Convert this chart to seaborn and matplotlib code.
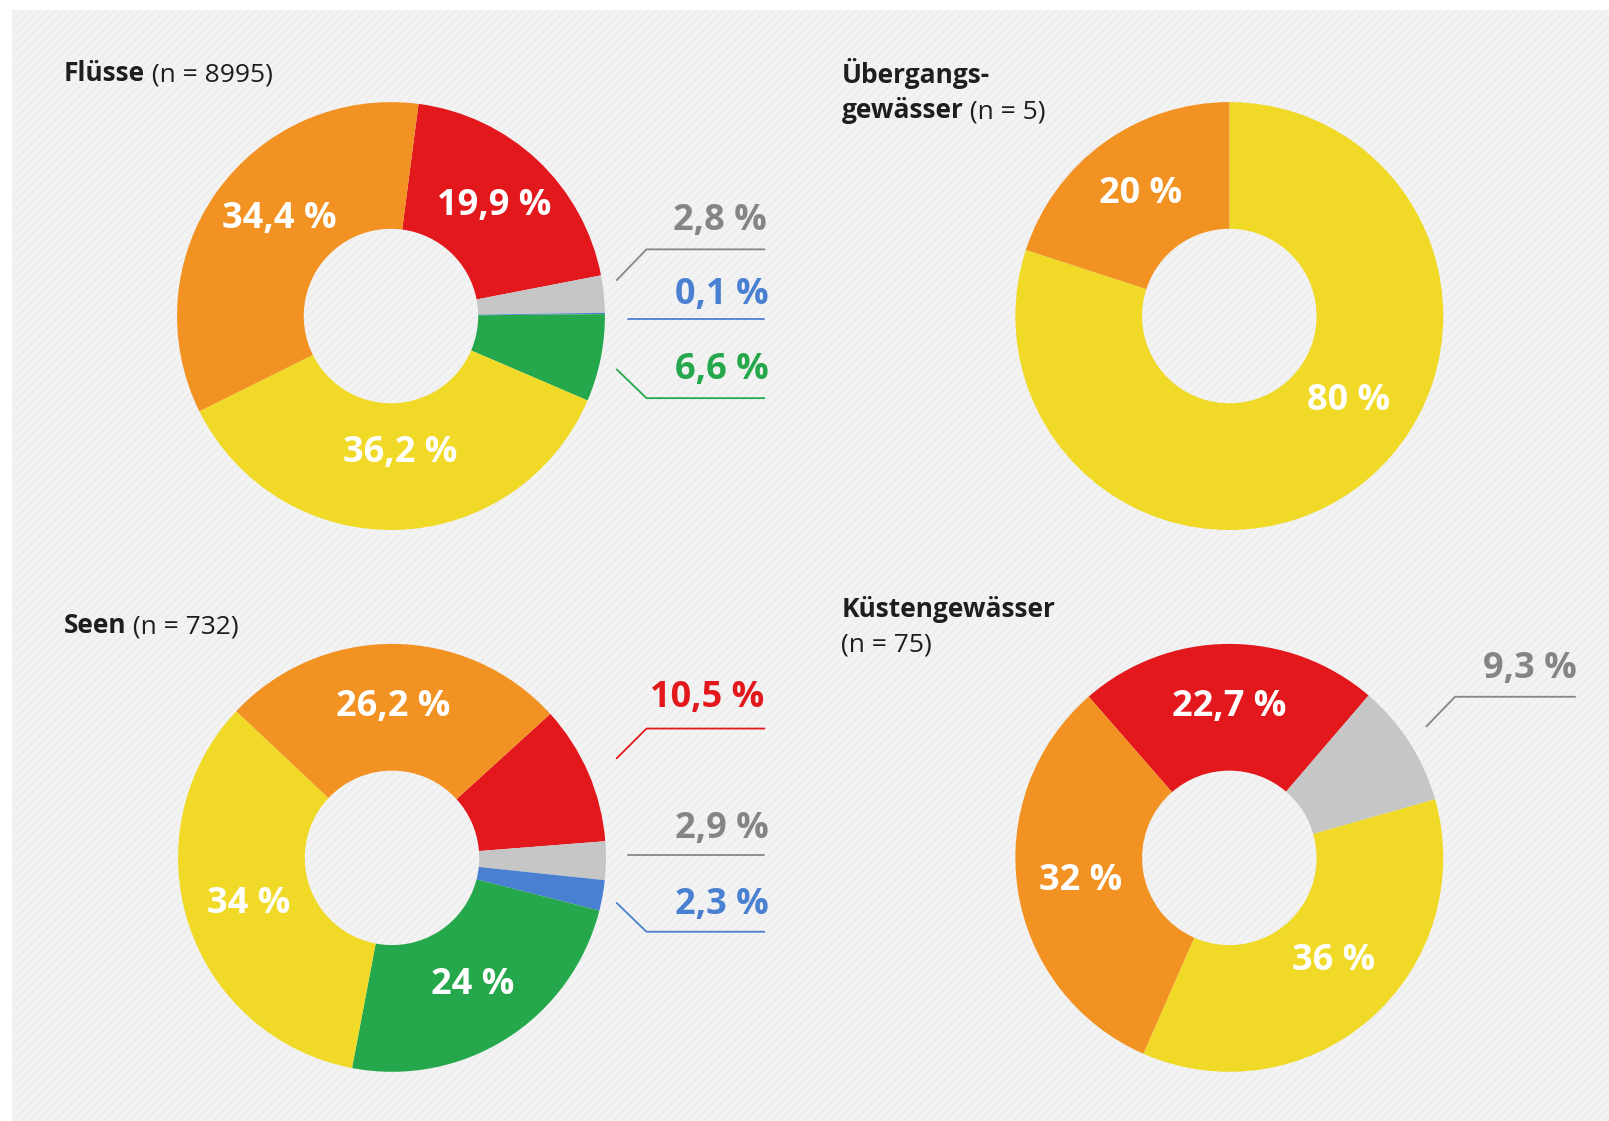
import matplotlib
matplotlib.use("Agg")
import matplotlib.pyplot as plt
import seaborn as sns
import numpy as np
from matplotlib.patches import Rectangle

sns.set_theme(style="white")
plt.rcParams['font.family'] = ['Open Sans', 'DejaVu Sans']
plt.rcParams['hatch.linewidth'] = 1.0

W, H = 1609, 1121
K = 1609 / 1568.0

RED = '#e2181c'
ORANGE = '#f29223'
YELLOW = '#f0da27'
GREEN = '#25a84b'
BLUE = '#4a80d1'
GRAY = '#c6c6c6'
GRAY_TXT = '#858585'
TITLE_COL = '#1e1e1e'

# ---------------- data ----------------
fluesse_values = [19.9, 2.8, 0.1, 6.6, 36.2, 34.4]
fluesse_labels = ["19,9 %", "2,8 %", "0,1 %", "6,6 %", "36,2 %", "34,4 %"]
fluesse_colors = [RED, GRAY, BLUE, GREEN, YELLOW, ORANGE]

uebergang_values = [80, 20]
uebergang_labels = ["80 %", "20 %"]
uebergang_colors = [YELLOW, ORANGE]

seen_values = [10.5, 2.9, 2.3, 24, 34, 26.2]
seen_labels = ["10,5 %", "2,9 %", "2,3 %", "24 %", "34 %", "26,2 %"]
seen_colors = [RED, GRAY, BLUE, GREEN, YELLOW, ORANGE]

kueste_values = [22.7, 9.3, 36, 32]
kueste_labels = ["22,7 %", "9,3 %", "36 %", "32 %"]
kueste_colors = [RED, GRAY, YELLOW, ORANGE]

titles = [
    ("Flüsse", " (n = 8995)"),
    ("Übergangs-\ngewässer", " (n = 5)"),
    ("Seen", " (n = 732)"),
    ("Küstengewässer", "\n(n = 75)"),
]

# --------------- layout ----------------
fig = plt.figure(figsize=(W / 100, H / 100), dpi=100)
fig.patch.set_facecolor('white')
ax = fig.add_axes([0, 0, 1, 1])

def P(x, y):
    """reference pixel coords (shown scale) -> data coords (y up)"""
    return x * K, H - y * K

ax.add_patch(Rectangle((12 * K, -5), W + 10, H - 10 * K + 5, facecolor='#f3f3f3',
                       edgecolor='#ececec', hatch='////', lw=0, zorder=0))

R = 208.5 * K
r = 85 * K
mid_r = (R + r) / 2

# label placement overrides: index -> (clockwise angle from top, distance)
charts = [
    dict(vals=fluesse_values, labs=fluesse_labels, cols=fluesse_colors,
         center=P(381, 308), start=90 - 7.4, inside=[0, 4, 5],
         override={4: (176.2, 134 * K), 5: (311.1, 144.6 * K)}),
    dict(vals=uebergang_values, labs=uebergang_labels, cols=uebergang_colors,
         center=P(1198, 308), start=90, inside=[0, 1], override={0: (125.6, 143 * K)}),
    dict(vals=seen_values, labs=seen_labels, cols=seen_colors,
         center=P(382, 836), start=90 - 47.7, inside=[3, 4, 5], override={}),
    dict(vals=kueste_values, labs=kueste_labels, cols=kueste_colors,
         center=P(1198, 836), start=90 - 318.9, inside=[0, 2, 3],
         override={2: (134.7, 143.5 * K)}),
]

for c in charts:
    wedges, _ = ax.pie(c['vals'], colors=c['cols'], startangle=c['start'],
                       counterclock=False, center=c['center'], radius=R,
                       wedgeprops=dict(width=R - r, linewidth=0),
                       frame=True)
    cx, cy = c['center']
    for i in c['inside']:
        w = wedges[i]
        ang = np.deg2rad((w.theta1 + w.theta2) / 2)
        dist = mid_r
        if i in c['override']:
            a_cw, dist = c['override'][i]
            ang = np.deg2rad(90 - a_cw)
        ax.text(cx + dist * np.cos(ang), cy + dist * np.sin(ang), c['labs'][i],
                color='white', fontsize=26, fontweight='bold',
                ha='center', va='center', zorder=5)

ax.set_xlim(0, W)
ax.set_ylim(0, H)
ax.set_aspect('equal')
ax.axis('off')

# outside labels with connectors
outside = [
    (fluesse_labels[1], GRAY_TXT, GRAY_TXT, (747, 215), [(601, 273), (630, 243), (745, 243)]),
    (fluesse_labels[2], BLUE, BLUE, (749, 287), [(612, 311), (745, 311)]),
    (fluesse_labels[3], GREEN, GREEN, (749, 361), [(601, 360), (630, 388), (745, 388)]),
    (seen_labels[0], RED, RED, (745, 680), [(601, 739), (630, 710), (745, 710)]),
    (seen_labels[1], GRAY_TXT, GRAY_TXT, (749, 808), [(612, 833), (745, 833)]),
    (seen_labels[2], BLUE, BLUE, (749, 882), [(601, 880), (630, 908), (745, 908)]),
    (kueste_labels[1], GRAY_TXT, GRAY_TXT, (1537, 652), [(1390, 708), (1418, 679), (1535, 679)]),
]
for lab, tcol, lcol, tpos, pts in outside:
    x, y = P(*tpos)
    ax.text(x, y, lab, color=tcol, fontsize=26, fontweight='bold',
            ha='right', va='center', zorder=5)
    xs, ys = zip(*[P(*p) for p in pts])
    ax.plot(xs, ys, color=lcol, lw=1.3, zorder=4)

# titles
TFS = 19
LS = 34 * K
renderer = fig.canvas.get_renderer()
title_pos = [(62, 79), (820, 81), (62, 617), (820, 601)]
for (bold, reg), (tx, ty) in zip(titles, title_pos):
    x, y = P(tx, ty)
    lines = bold.split("\n")
    for j, line in enumerate(lines):
        ax.text(x, y - j * LS, line, fontsize=TFS, fontweight='bold',
                color=TITLE_COL, ha='left', va='baseline')
    if reg.startswith("\n"):
        ax.text(x, y - len(lines) * LS, reg.strip("\n"), fontsize=TFS,
                color=TITLE_COL, ha='left', va='baseline')
    else:
        tmp = ax.text(x, y, lines[-1], fontsize=TFS, fontweight='bold',
                      ha='left', va='baseline')
        bb = tmp.get_window_extent(renderer)
        tmp.remove()
        ax.text(x + bb.width, y - (len(lines) - 1) * LS, reg, fontsize=TFS,
                color=TITLE_COL, ha='left', va='baseline')

fig.savefig("out.png", dpi=100, facecolor='white')
